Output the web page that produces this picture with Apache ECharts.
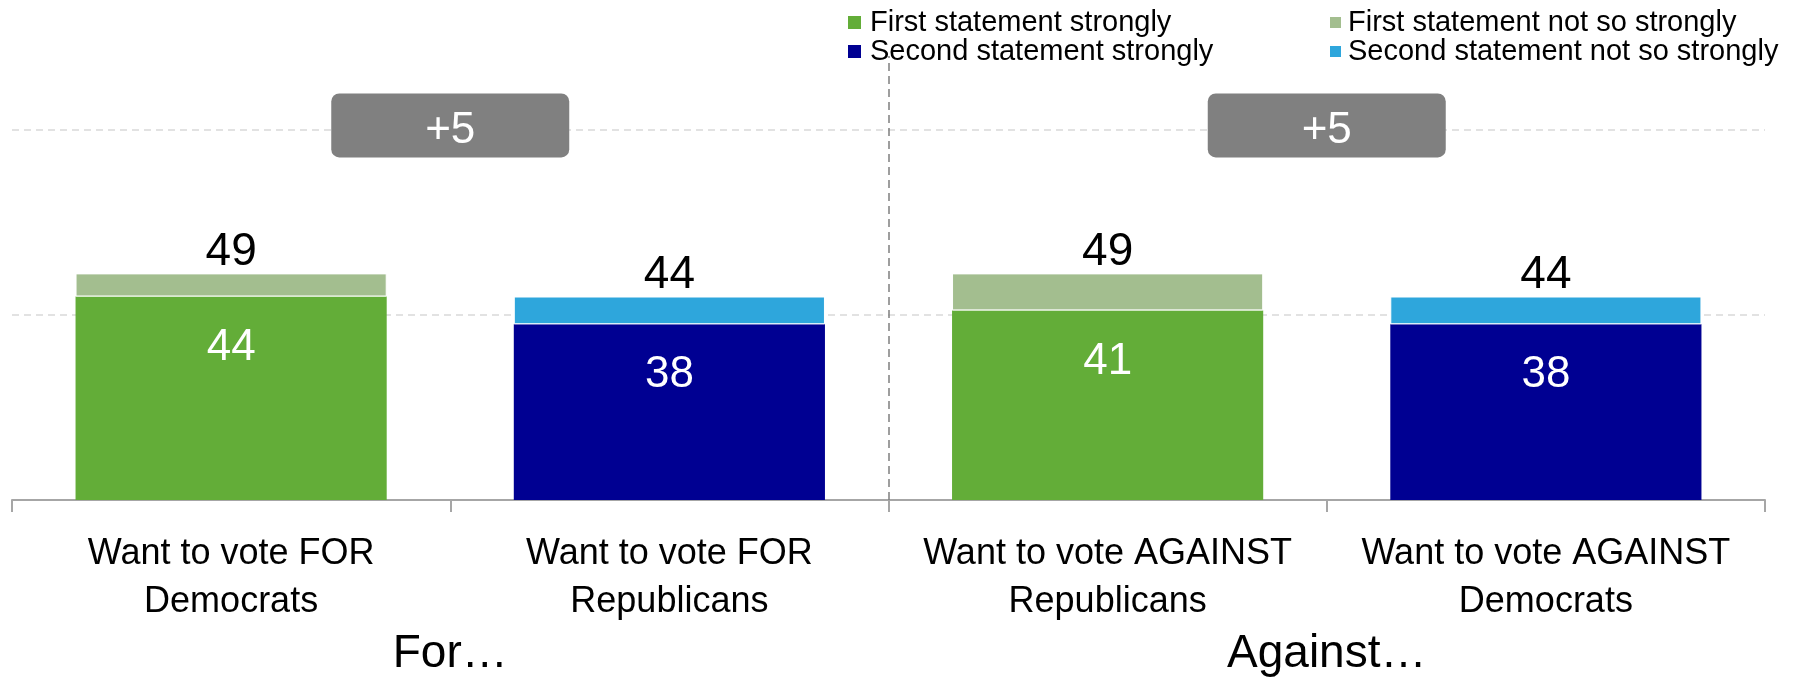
<!DOCTYPE html>
<html><head><meta charset="utf-8">
<script src="https://cdn.jsdelivr.net/npm/echarts@6/dist/echarts.min.js"></script>
<style>html,body{margin:0;padding:0;background:#fff}#c{width:1803px;height:677px}</style>
</head><body><div id="c"></div>
<script>
// ---- data ----
const categories = ['Want to vote FOR\nDemocrats', 'Want to vote FOR\nRepublicans', 'Want to vote AGAINST\nRepublicans', 'Want to vote AGAINST\nDemocrats'];
const groups = ['For\u2026', 'Against\u2026'];
const firstStrong = [44, null, 41, null];
const secondStrong = [null, 38, null, 38];
const firstNotSo = [5, null, 8, null];
const secondNotSo = [null, 6, null, 6];
const yTicks = [0, 40, 80];

// ---- derived ----
const totals = categories.map((c, i) => (firstStrong[i] || 0) + (secondStrong[i] || 0) + (firstNotSo[i] || 0) + (secondNotSo[i] || 0));
const gaps = groups.map((g, k) => totals[2 * k] - totals[2 * k + 1]);
const dash = v => (v == null ? '-' : v);

const FONT = "'Liberation Sans', Arial, sans-serif";
const BOX_LEVEL = 81;
const C = { g: '#63ad38', gl: '#a3be8f', n: '#000092', nl: '#2ea6dc' };

const chart = echarts.init(document.getElementById('c'));

const strongLabel = { show: true, position: 'insideTop', distance: 29, color: '#fff', fontSize: 44, fontFamily: FONT };
const totalLabel = { show: true, position: 'top', distance: -2, color: '#000', fontSize: 46, fontFamily: FONT, formatter: p => totals[p.dataIndex] };

chart.setOption({
  animation: false,
  backgroundColor: '#fff',
  textStyle: { fontFamily: FONT },
  grid: { left: 12, right: 38, top: 56, bottom: 177, containLabel: false, outerBoundsMode: 'none' },
  legend: [
    { data: ['First statement strongly', 'Second statement strongly'], orient: 'vertical', left: 843, top: 3,
      itemWidth: 13, itemHeight: 13, itemGap: 0, icon: 'rect',
      textStyle: { fontSize: 29, lineHeight: 27, color: '#000', fontFamily: FONT, padding: [0, 0, 0, 4] } },
    { data: ['First statement not so strongly', 'Second statement not so strongly'], orient: 'vertical', left: 1323, top: 3,
      itemWidth: 13, itemHeight: 13, itemGap: 0, icon: 'rect',
      textStyle: { fontSize: 29, lineHeight: 27, color: '#000', fontFamily: FONT, padding: [0, 0, 0, 1] } }
  ],
  xAxis: [
    { type: 'category', data: categories, position: 'bottom',
      axisLine: { lineStyle: { color: '#a6a6a6', width: 2 } },
      axisTick: { show: true, length: 12, lineStyle: { color: '#a6a6a6', width: 2 } },
      axisLabel: { interval: 0, fontSize: 36, lineHeight: 48, color: '#000', margin: 30, fontFamily: FONT },
      splitLine: { show: false } },
    { type: 'category', data: groups, position: 'bottom',
      axisLine: { show: false }, axisTick: { show: false },
      axisLabel: { interval: 0, fontSize: 46, color: '#000', margin: 131, fontFamily: FONT },
      splitLine: { show: false } },
    { type: 'value', min: 0, max: categories.length, show: false }
  ],
  yAxis: {
    type: 'value', min: yTicks[0], max: 96, interval: yTicks[1] - yTicks[0],
    axisLine: { show: false }, axisTick: { show: false }, axisLabel: { show: false },
    splitLine: { show: true, showMinLine: false, showMaxLine: false, lineStyle: { color: '#d9d9d9', type: [7, 5], width: 1.5 } }
  },
  series: [
    { name: 'First statement strongly', type: 'bar', stack: 'a', barWidth: '71%', data: firstStrong.map(dash),
      itemStyle: { color: C.g }, label: strongLabel },
    { name: 'Second statement strongly', type: 'bar', stack: 'a', barWidth: '71%', data: secondStrong.map(dash),
      itemStyle: { color: C.n }, label: strongLabel },
    { name: 'First statement not so strongly', type: 'bar', stack: 'a', barWidth: '71%', data: firstNotSo.map(dash),
      itemStyle: { color: C.gl, borderColor: '#fff', borderWidth: 1 }, label: totalLabel },
    { name: 'Second statement not so strongly', type: 'bar', stack: 'a', barWidth: '71%', data: secondNotSo.map(dash),
      itemStyle: { color: C.nl, borderColor: '#fff', borderWidth: 1 }, label: totalLabel },
    { name: 'gap', type: 'scatter', xAxisIndex: 2, yAxisIndex: 0, silent: true,
      symbol: 'path://M8,0 H230 A8,8 0 0 1 238,8 V56 A8,8 0 0 1 230,64 H8 A8,8 0 0 1 0,56 V8 A8,8 0 0 1 8,0 Z',
      symbolSize: [238, 64],
      itemStyle: { color: '#808080', opacity: 1 },
      label: { show: true, position: 'inside', offset: [0, 5], color: '#fff', fontSize: 44, fontFamily: FONT,
        formatter: p => (gaps[p.dataIndex] > 0 ? '+' : '') + gaps[p.dataIndex] },
      data: gaps.map((g, k) => [2 * k + 1, BOX_LEVEL]),
      markLine: { silent: true, symbol: ['none', 'none'], label: { show: false },
        lineStyle: { color: '#7f7f7f', type: [8, 5], width: 1.5 },
        data: [{ xAxis: categories.length / 2 }] } }
  ]
});
</script>
</body></html>
